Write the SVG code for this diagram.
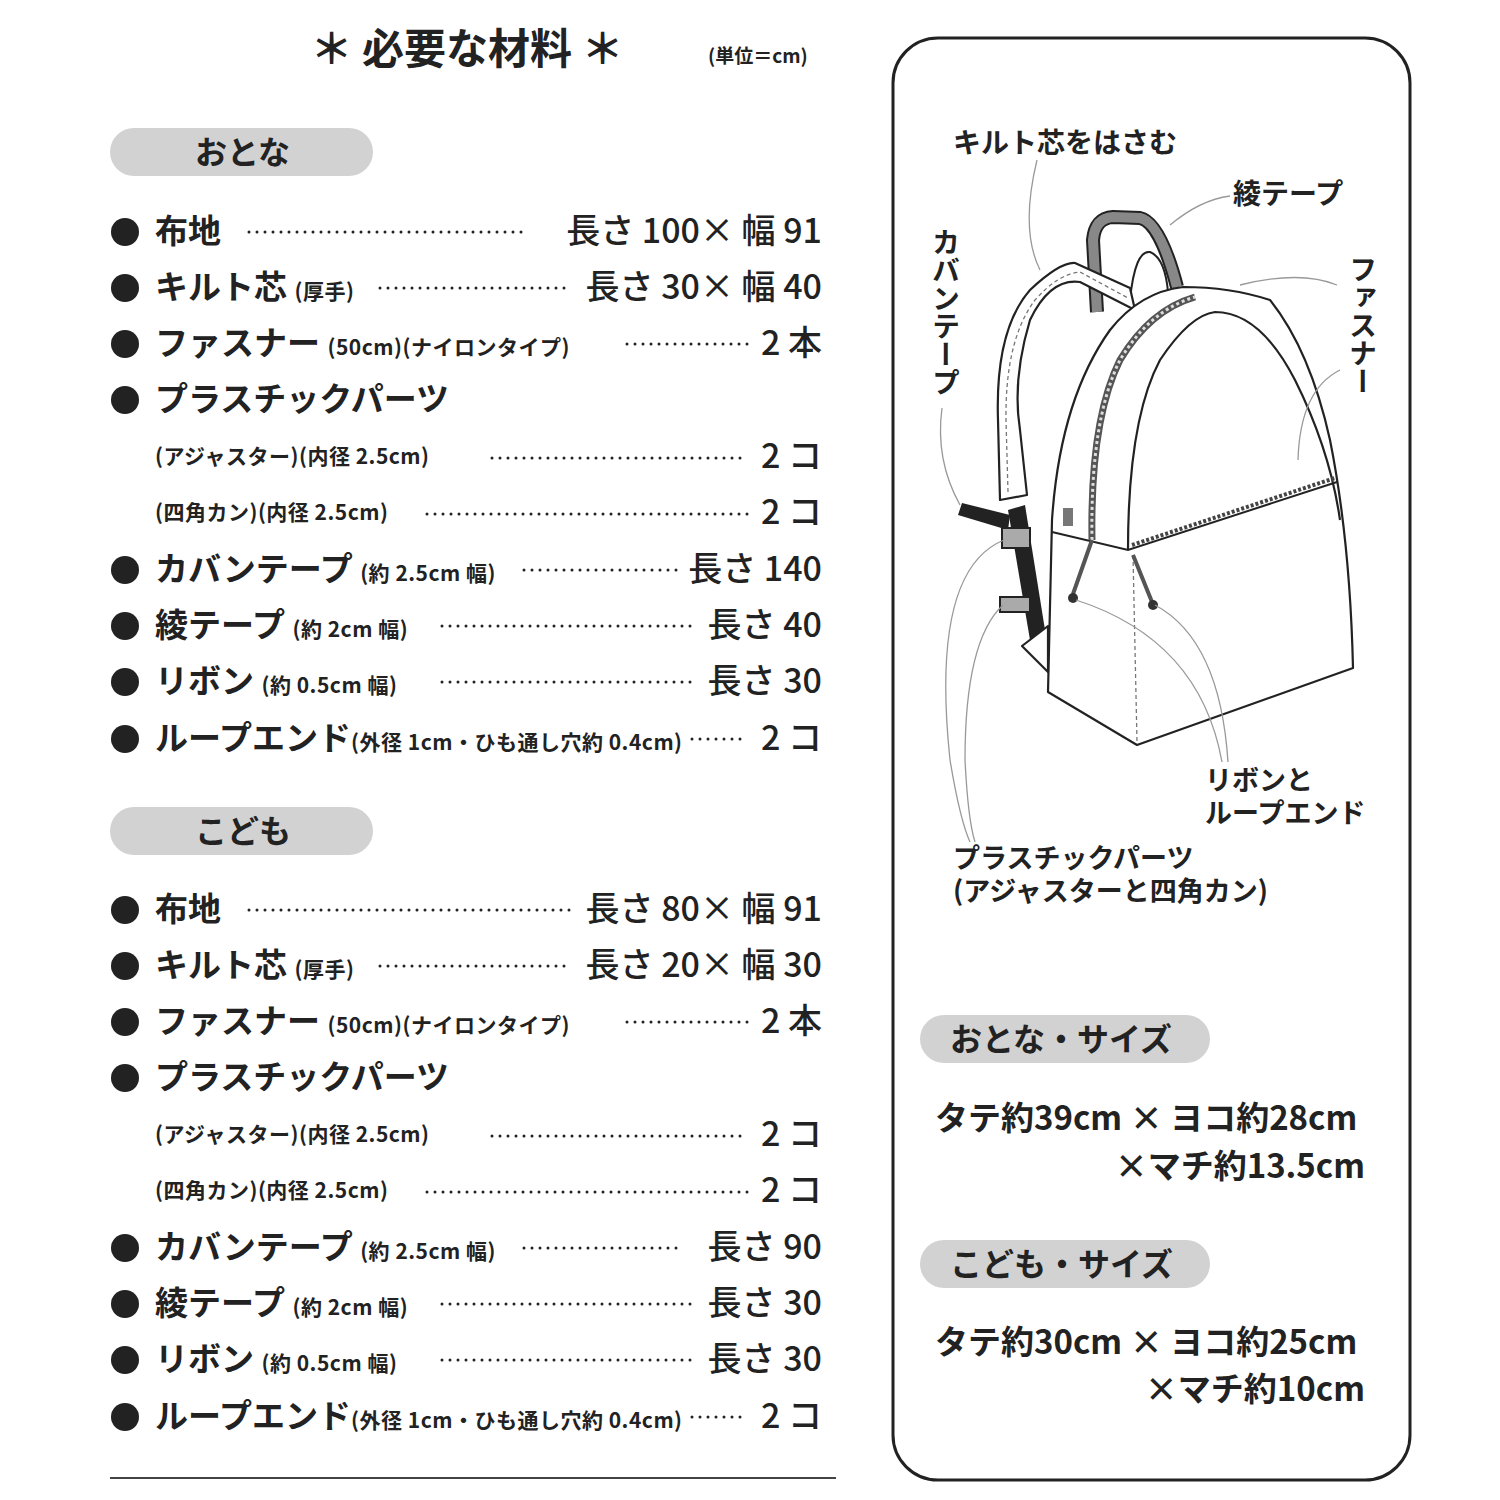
<svg xmlns="http://www.w3.org/2000/svg" width="1500" height="1500" viewBox="0 0 1500 1500">
<style>
text{font-family:"Noto Sans CJK JP","Noto Sans",sans-serif;fill:#222;font-weight:700}
.m{font-size:33px}
.s{font-size:21px;letter-spacing:0.5px}
.v{font-size:34px;text-anchor:end;font-weight:500}
.dot{stroke:#222;stroke-width:3;stroke-linecap:round;stroke-dasharray:0 8}
.pill{fill:#d2d2d2}
.ol{fill:#fff;stroke:#222;stroke-width:2.2;stroke-linejoin:round}
.ds{fill:none;stroke:#777;stroke-width:1.3;stroke-dasharray:4 3}
.ld{fill:none;stroke:#999;stroke-width:1.3}
</style>
<rect width="1500" height="1500" fill="#fff"/>
<g id="title">
<text x="467" y="64" font-size="42" text-anchor="middle">＊ 必要な材料 ＊</text>
<text x="708" y="63" font-size="19" font-weight="500">(単位＝cm)</text>
</g>
<g id="adult">
<rect class="pill" x="110" y="128" width="263" height="48" rx="24"/>
<text x="195" y="164" font-size="32">おとな</text>
<g fill="#222"><circle cx="125" cy="232" r="14"/><circle cx="125" cy="288" r="14"/><circle cx="125" cy="344" r="14"/><circle cx="125" cy="400" r="14"/><circle cx="125" cy="570" r="14"/><circle cx="125" cy="626" r="14"/><circle cx="125" cy="682" r="14"/><circle cx="125" cy="739" r="14"/></g>
<text class="m" x="155" y="243">布地</text><line class="dot" x1="249" y1="232" x2="525" y2="232"/><text class="v" x="822" y="243">長さ 100× 幅 91</text>
<text class="m" x="155" y="299">キルト芯 <tspan class="s">(厚手)</tspan></text><line class="dot" x1="380" y1="288" x2="570" y2="288"/><text class="v" x="822" y="299">長さ 30× 幅 40</text>
<text class="m" x="155" y="355">ファスナー <tspan class="s">(50cm)(ナイロンタイプ)</tspan></text><line class="dot" x1="627" y1="344" x2="748" y2="344"/><text class="v" x="822" y="355">2 本</text>
<text class="m" x="155" y="411">プラスチックパーツ</text>
<text class="s" x="155" y="464">(アジャスター)(内径 2.5cm)</text><line class="dot" x1="492" y1="458" x2="748" y2="458"/><text class="v" x="822" y="468">2 コ</text>
<text class="s" x="155" y="520">(四角カン)(内径 2.5cm)</text><line class="dot" x1="427" y1="514" x2="748" y2="514"/><text class="v" x="822" y="524">2 コ</text>
<text class="m" x="155" y="581">カバンテープ <tspan class="s">(約 2.5cm 幅)</tspan></text><line class="dot" x1="524" y1="570" x2="680" y2="570"/><text class="v" x="822" y="581">長さ 140</text>
<text class="m" x="155" y="637">綾テープ <tspan class="s">(約 2cm 幅)</tspan></text><line class="dot" x1="442" y1="626" x2="697" y2="626"/><text class="v" x="822" y="637">長さ 40</text>
<text class="m" x="155" y="693">リボン <tspan class="s">(約 0.5cm 幅)</tspan></text><line class="dot" x1="442" y1="682" x2="697" y2="682"/><text class="v" x="822" y="693">長さ 30</text>
<text class="m" x="155" y="750">ループエンド<tspan class="s">(外径 1cm・ひも通し穴約 0.4cm)</tspan></text><line class="dot" x1="692" y1="739" x2="748" y2="739"/><text class="v" x="822" y="750">2 コ</text>
</g>
<g id="child">
<rect class="pill" x="110" y="807" width="263" height="48" rx="24"/>
<text x="195" y="843" font-size="32">こども</text>
<g fill="#222"><circle cx="125" cy="910" r="14"/><circle cx="125" cy="966" r="14"/><circle cx="125" cy="1022" r="14"/><circle cx="125" cy="1078" r="14"/><circle cx="125" cy="1248" r="14"/><circle cx="125" cy="1304" r="14"/><circle cx="125" cy="1360" r="14"/><circle cx="125" cy="1417" r="14"/></g>
<text class="m" x="155" y="921">布地</text><line class="dot" x1="249" y1="910" x2="570" y2="910"/><text class="v" x="822" y="921">長さ 80× 幅 91</text>
<text class="m" x="155" y="977">キルト芯 <tspan class="s">(厚手)</tspan></text><line class="dot" x1="380" y1="966" x2="570" y2="966"/><text class="v" x="822" y="977">長さ 20× 幅 30</text>
<text class="m" x="155" y="1033">ファスナー <tspan class="s">(50cm)(ナイロンタイプ)</tspan></text><line class="dot" x1="627" y1="1022" x2="748" y2="1022"/><text class="v" x="822" y="1033">2 本</text>
<text class="m" x="155" y="1089">プラスチックパーツ</text>
<text class="s" x="155" y="1142">(アジャスター)(内径 2.5cm)</text><line class="dot" x1="492" y1="1136" x2="748" y2="1136"/><text class="v" x="822" y="1146">2 コ</text>
<text class="s" x="155" y="1198">(四角カン)(内径 2.5cm)</text><line class="dot" x1="427" y1="1192" x2="748" y2="1192"/><text class="v" x="822" y="1202">2 コ</text>
<text class="m" x="155" y="1259">カバンテープ <tspan class="s">(約 2.5cm 幅)</tspan></text><line class="dot" x1="524" y1="1248" x2="680" y2="1248"/><text class="v" x="822" y="1259">長さ 90</text>
<text class="m" x="155" y="1315">綾テープ <tspan class="s">(約 2cm 幅)</tspan></text><line class="dot" x1="442" y1="1304" x2="697" y2="1304"/><text class="v" x="822" y="1315">長さ 30</text>
<text class="m" x="155" y="1371">リボン <tspan class="s">(約 0.5cm 幅)</tspan></text><line class="dot" x1="442" y1="1360" x2="697" y2="1360"/><text class="v" x="822" y="1371">長さ 30</text>
<text class="m" x="155" y="1428">ループエンド<tspan class="s">(外径 1cm・ひも通し穴約 0.4cm)</tspan></text><line class="dot" x1="692" y1="1417" x2="748" y2="1417"/><text class="v" x="822" y="1428">2 コ</text>
<line x1="110" y1="1478" x2="836" y2="1478" stroke="#444" stroke-width="2"/>
</g>
<g id="panel">
<rect x="893" y="38" width="517" height="1442" rx="45" fill="none" stroke="#222" stroke-width="3"/>
</g>
<g id="backpack">
<path d="M1097,312 L1093,240 Q1095,218 1113,217 L1140,218 Q1160,222 1177,287" fill="none" stroke="#222" stroke-width="14"/>
<path d="M1097,312 L1093,240 Q1095,218 1113,217 L1140,218 Q1160,222 1177,287" fill="none" stroke="#888" stroke-width="10"/>
<path d="M1130,300 Q1135,250 1150,252 Q1165,258 1168,292" fill="none" stroke="#222" stroke-width="2"/>
<path class="ol" d="M1000,500 L998,420 Q995,330 1030,290 Q1060,262 1075,263 L1130,288 L1135,310 L1080,282 Q1050,278 1030,320 Q1012,380 1020,430 L1027,495 Z"/>
<path class="ds" d="M1008,492 L1006,420 Q1005,340 1035,300 Q1058,274 1080,272 L1128,298"/>
<path d="M958,515 L962,503 L1010,515 L1008,530 Z" fill="#222"/>
<path d="M1008,510 L1025,505 L1045,630 L1030,640 Z" fill="#222"/>
<rect x="1002" y="528" width="28" height="20" fill="#aaa" stroke="#222" stroke-width="2"/>
<rect x="1000" y="597" width="30" height="15" fill="#aaa" stroke="#222" stroke-width="2"/>
<path class="ol" d="M1048,692 L1052,520 Q1060,400 1110,330 Q1140,292 1183,287 Q1230,287 1270,300 Q1310,350 1330,440 Q1350,540 1353,668 L1137,745 Z"/>
<path class="ol" d="M1022,646 L1048,626 L1048,672 Z"/>
<path d="M1128,550 Q1128,420 1160,360 Q1190,315 1215,312 Q1260,312 1295,380 Q1330,450 1340,520" fill="none" stroke="#222" stroke-width="2.2"/>
<path d="M1052,532 L1128,550 L1337,482" fill="none" stroke="#222" stroke-width="2"/>
<path d="M1132,545 L1335,478" fill="none" stroke="#444" stroke-width="4" stroke-dasharray="3 2"/>
<path class="ds" d="M1133,555 L1137,742"/>
<rect x="1063" y="508" width="10" height="18" fill="#777"/>
<path d="M1092,540 Q1090,420 1120,360 Q1150,310 1195,297" fill="none" stroke="#555" stroke-width="7"/>
<path d="M1092,540 Q1090,420 1120,360 Q1150,310 1195,297" fill="none" stroke="#ddd" stroke-width="3" stroke-dasharray="3 3"/>
<path d="M1092,540 L1073,594 M1133,555 L1152,602" stroke="#555" stroke-width="4"/>
<circle cx="1073" cy="598" r="5" fill="#333"/><circle cx="1153" cy="605" r="5" fill="#333"/>
</g>
<g id="connectors">
<path class="ld" d="M1037,160 Q1020,230 1040,270"/>
<path class="ld" d="M1230,196 Q1200,200 1170,225"/>
<path class="ld" d="M1337,285 Q1300,270 1240,285"/>
<path class="ld" d="M1340,370 Q1300,390 1298,460"/>
<path class="ld" d="M942,408 Q935,460 960,505"/>
<path class="ld" d="M1004,540 Q930,570 950,760 Q960,820 970,842"/>
<path class="ld" d="M1003,605 Q965,640 965,760 Q968,820 975,842"/>
<path class="ld" d="M1076,600 Q1200,640 1222,762"/>
<path class="ld" d="M1155,605 Q1220,640 1228,762"/>
</g>
<g id="labels">
<text x="953" y="153" font-size="28">キルト芯をはさむ</text>
<text x="1233" y="204" font-size="28">綾テープ</text>
<text font-size="28" writing-mode="tb" x="946" y="228">カバンテープ</text>
<text font-size="28" writing-mode="tb" x="1363" y="255">ファスナー</text>
<text x="1205" y="790" font-size="27">リボンと</text>
<text x="1205" y="823" font-size="27">ループエンド</text>
<text x="953" y="868" font-size="27">プラスチックパーツ</text>
<text x="953" y="901" font-size="27">(アジャスターと四角カン)</text>
</g>
<g id="sizes">
<rect class="pill" x="920" y="1015" width="290" height="48" rx="24"/>
<text x="950" y="1051" font-size="32">おとな・サイズ</text>
<text x="935" y="1130" font-size="33" font-weight="500">タテ約39cm × ヨコ約28cm</text>
<text x="1365" y="1178" font-size="33" font-weight="500" text-anchor="end">×マチ約13.5cm</text>
<rect class="pill" x="920" y="1240" width="290" height="48" rx="24"/>
<text x="950" y="1276" font-size="32">こども・サイズ</text>
<text x="935" y="1354" font-size="33" font-weight="500">タテ約30cm × ヨコ約25cm</text>
<text x="1365" y="1401" font-size="33" font-weight="500" text-anchor="end">×マチ約10cm</text>
</g>
</svg>
